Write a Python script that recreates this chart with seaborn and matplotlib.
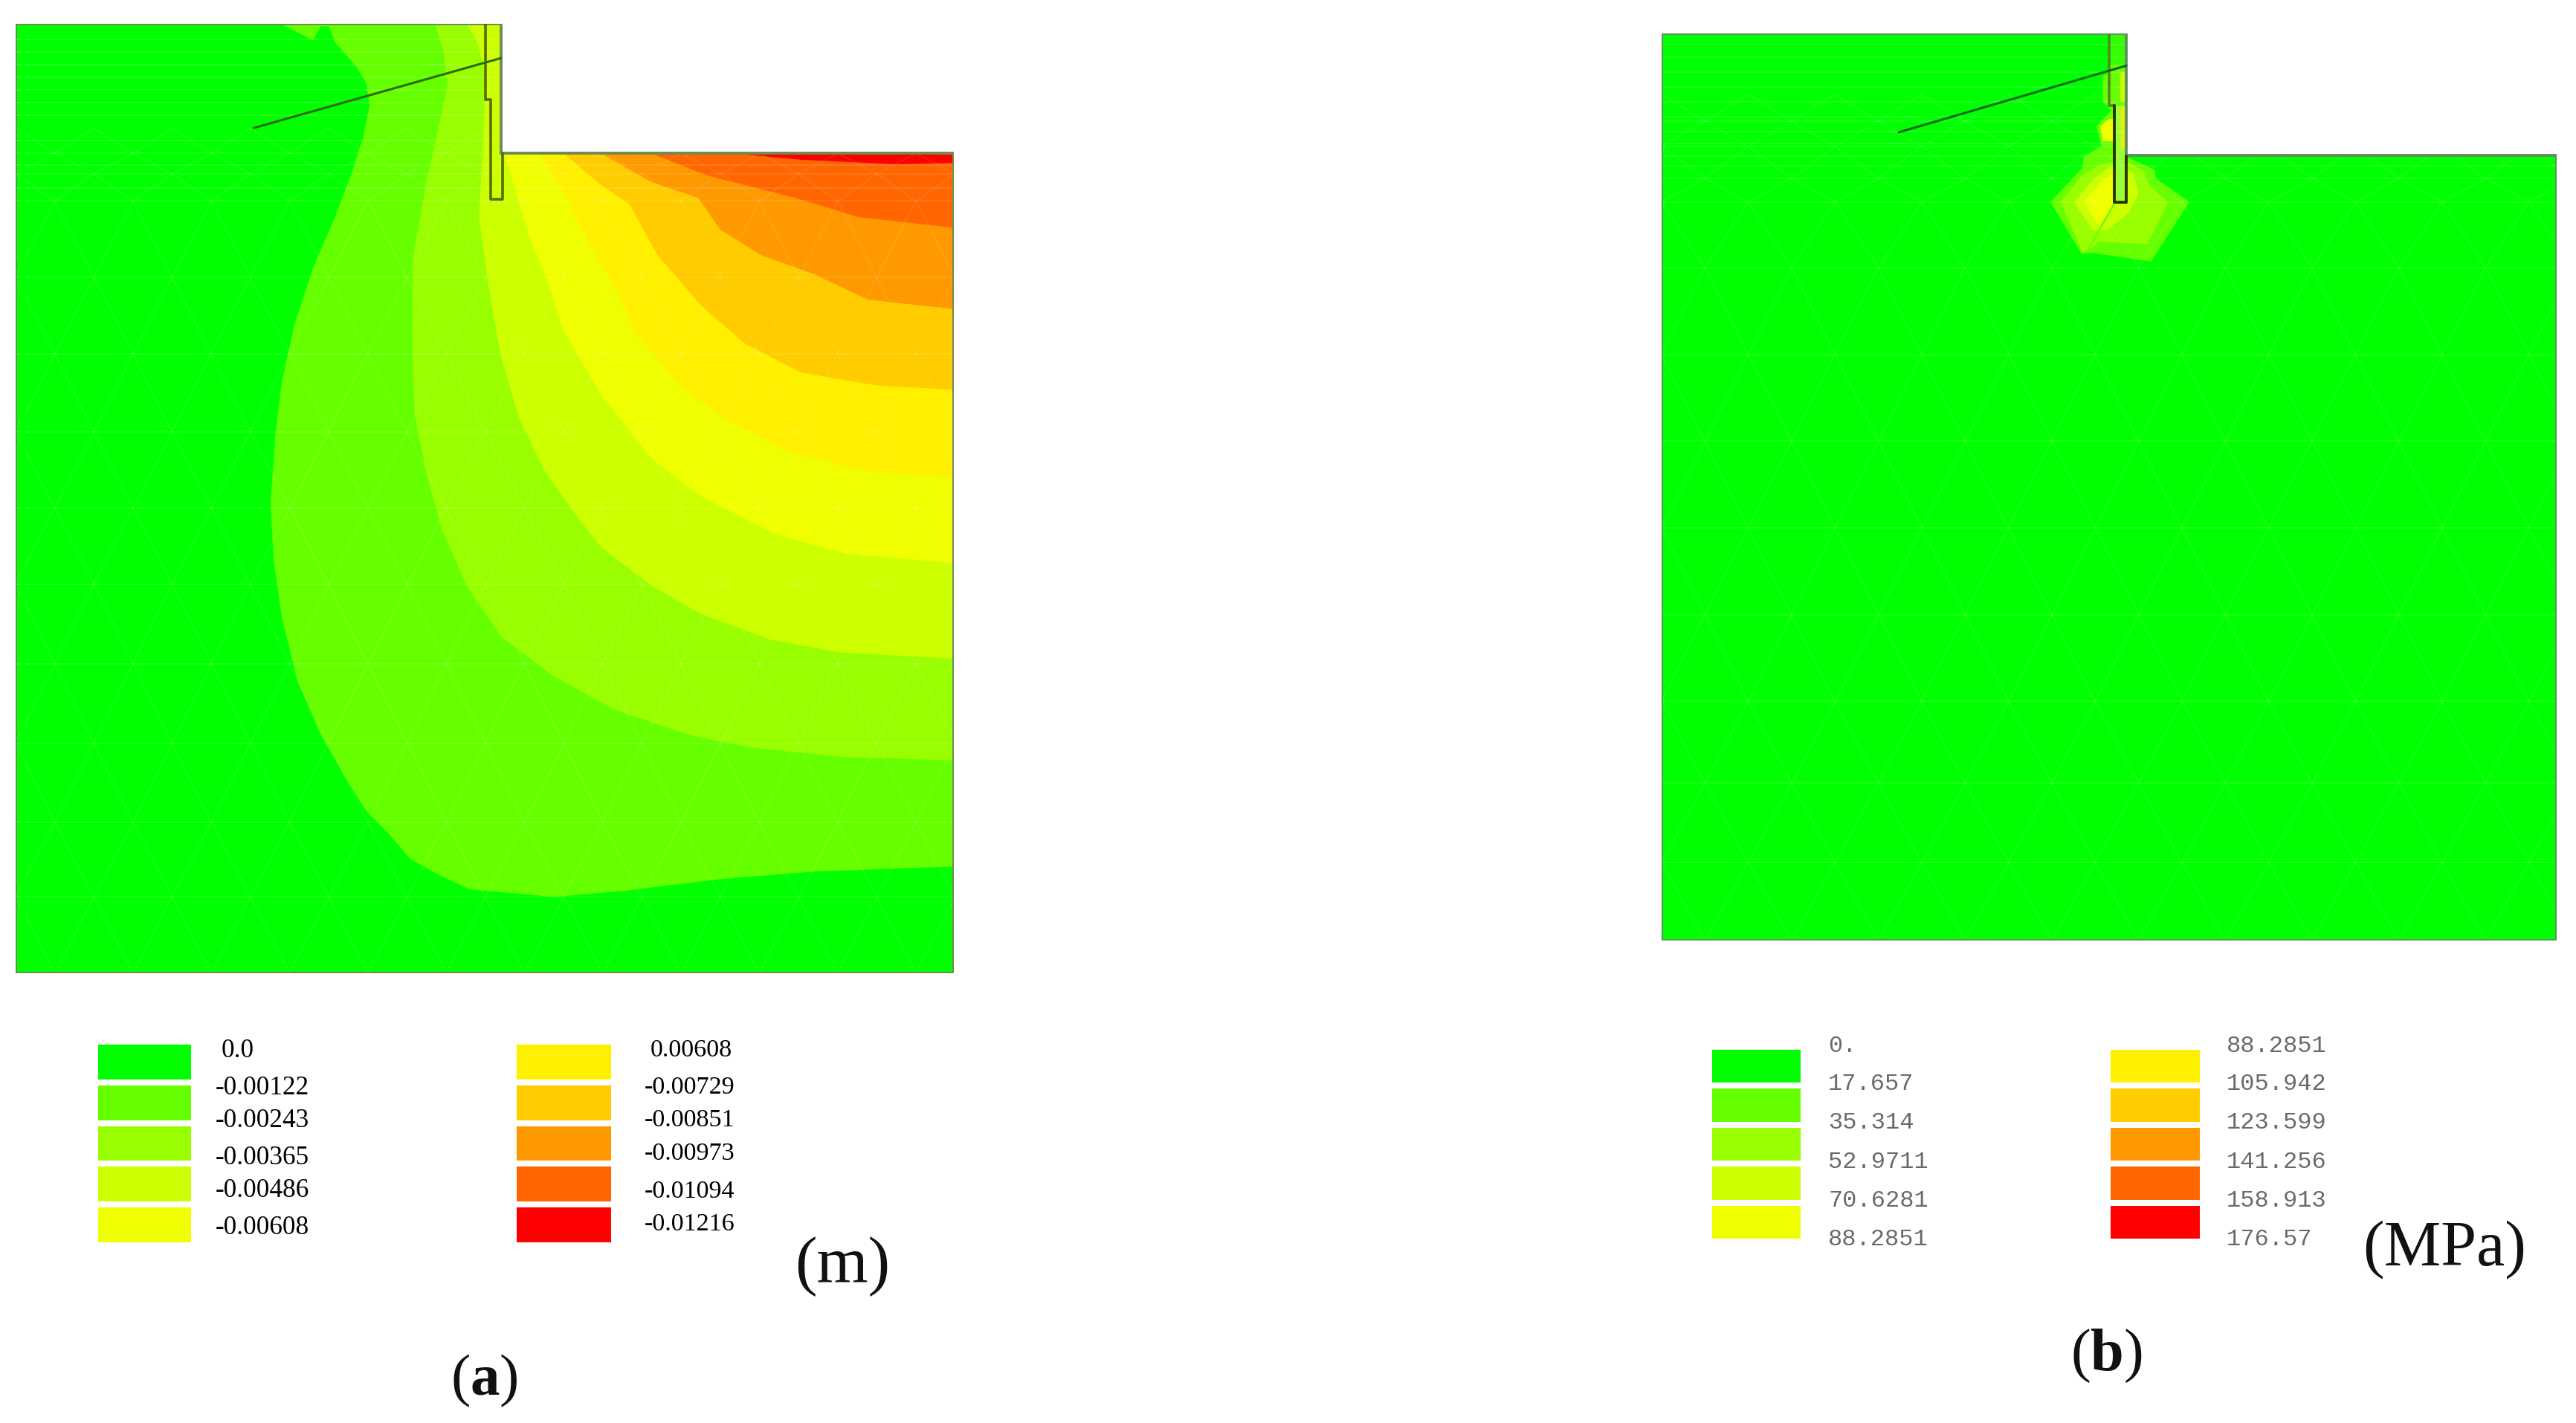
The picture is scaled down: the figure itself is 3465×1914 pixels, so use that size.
import numpy as np
import matplotlib
matplotlib.use("Agg")
import matplotlib.pyplot as plt
from matplotlib.colors import ListedColormap
import pandas as pd
import seaborn as sns

sns.set_theme(style="white")
plt.rcParams['font.family'] = ['Liberation Serif', 'DejaVu Sans']
plt.rcParams['mathtext.fontset'] = 'custom'
plt.rcParams['mathtext.bf'] = 'Liberation Serif:bold'
plt.rcParams['mathtext.rm'] = 'Liberation Serif'

W, H = 3465, 1914

# colours of the ten contour bands
band_colors = ['#00FF00', '#66FF00', '#99FF00', '#CCFF00', '#F0FF00',
               '#FFF000', '#FFCC00', '#FF9900', '#FF6600', '#FF0000']

# legend labels
labels_a_left = ['0.0', '-0.00122', '-0.00243', '-0.00365', '-0.00486', '-0.00608']
labels_a_right = ['0.00608', '-0.00729', '-0.00851', '-0.00973', '-0.01094', '-0.01216']
labels_b_left = ['0.', '17.657', '35.314', '52.9711', '70.6281', '88.2851']
labels_b_right = ['88.2851', '105.942', '123.599', '141.256', '158.913', '176.57']

# panel a: contour lines (x, depth), each one from the surface to the edge
a_c1 = [(448, 36), (500, 62), (512, 40), (525, 40), (535, 65), (570, 105), (585, 130), (590, 165),
        (580, 215), (560, 275), (535, 340), (500, 420), (470, 510), (450, 600), (440, 680), (432, 790),
        (437, 880), (450, 970), (475, 1070), (510, 1150), (550, 1220), (585, 1275), (620, 1310),
        (655, 1350), (700, 1375), (750, 1398), (885, 1410), (1000, 1400), (1150, 1382), (1300, 1370),
        (1523, 1362)]
a_c2 = [(695, 36), (708, 80), (715, 130), (700, 200), (680, 290), (660, 400), (658, 520), (662, 650),
        (680, 740), (705, 830), (745, 920), (800, 1000), (880, 1060), (980, 1115), (1100, 1155),
        (1200, 1175), (1350, 1190), (1523, 1195)]
a_c3 = [(745, 36), (760, 60), (772, 100), (775, 150), (770, 250), (765, 340), (780, 450), (800, 560),
        (830, 660), (870, 740), (920, 810), (960, 860), (1040, 920), (1120, 965), (1230, 1005),
        (1340, 1025), (1523, 1035)]
a_c4 = [(806, 240), (820, 290), (845, 370), (870, 430), (900, 520), (960, 620), (1040, 720), (1120, 780),
        (1240, 840), (1350, 870), (1523, 885)]
a_c5 = [(860, 240), (900, 300), (935, 370), (975, 440), (1020, 530), (1090, 610), (1160, 660), (1260, 710),
        (1380, 740), (1523, 750)]
a_c6 = [(900, 240), (960, 290), (1005, 320), (1050, 400), (1120, 480), (1190, 540), (1280, 585),
        (1400, 605), (1523, 612)]
a_c7 = [(960, 240), (1040, 285), (1115, 310), (1150, 360), (1215, 400), (1300, 430), (1385, 470), (1523, 485)]
a_c8 = [(1040, 240), (1130, 275), (1270, 310), (1370, 340), (1523, 357)]
a_c9 = [(1170, 240), (1280, 250), (1430, 257), (1523, 255)]

a_outline = [(25, 36), (800, 36), (800, 240), (1523, 240), (1523, 1530), (25, 1530), (25, 36)]
a_wall = [(775, 36), (775, 155), (783, 155), (783, 312), (803, 312), (803, 240)]
a_anchor = [(405, 200), (800, 90)]
a_mesh_rows = [200, 240, 272, 315, 435, 555, 678, 798, 918, 1043, 1168, 1292, 1410, 1530]
a_mesh_top = [60, 80, 100, 120, 140, 160, 180, 220, 258, 295]

# panel b: same mesh, much smaller stress lobes around the wall toe
b_c1 = [(175, 755), (300, 620), (310, 570), (380, 530), (360, 450), (420, 385), (385, 350), (385, 250),
        (440, 210), (475, 200), (475, 570), (595, 625), (600, 660), (735, 755), (580, 995), (340, 960),
        (300, 965)]
b_c2 = [(215, 755), (300, 650), (380, 600), (480, 590), (550, 630), (575, 690), (650, 755), (565, 925),
        (370, 915), (340, 940), (305, 960)]
b_c3 = [(270, 755), (350, 660), (420, 610), (510, 640), (530, 720), (490, 800), (400, 870), (345, 870)]
b_c4_low = [(310, 755), (385, 665), (430, 640), (430, 760), (400, 810), (370, 850)]
b_c4_up = [(375, 450), (410, 420), (432, 420), (432, 510), (385, 510)]
b_wall_fill = [(435, 365), (478, 365), (478, 750), (435, 750)]
b_wall_top = [(415, 80), (475, 80), (475, 200), (415, 200)]
b_wall_mid = [(415, 200), (475, 200), (475, 365), (415, 365)]
b_wall_side = [(455, 230), (475, 230), (475, 350), (455, 350)]
b_wall_yellow = [(460, 370), (478, 370), (478, 540), (460, 540)]

b_outline = [(-1395, 75), (480, 75), (480, 568), (2217, 568), (2217, 3735), (-1395, 3735), (-1395, 75)]
b_wall_up = [(410, 75), (410, 365), (432, 365)]
b_wall_low = [(432, 365), (432, 755), (480, 755), (480, 570)]
b_anchor = [(-438, 474), (480, 205)]
b_seam = [(435, 755), (320, 960)]
b_mesh_rows = [320, 430, 530, 660, 755, 1020, 1370, 1720, 2070, 2420, 2770, 3100, 3420, 3735]
b_mesh_top = [120, 170, 230, 290, 350, 410, 470, 520, 570, 610]


def px_axes(fig, x0, y0, x1, y1):
    return fig.add_axes([x0 / W, 1 - y1 / H, (x1 - x0) / W, (y1 - y0) / H])


def xy(points):
    return pd.DataFrame(points, columns=['x', 'y'])


def line(ax, points, color, lw):
    sns.lineplot(data=xy(points), x='x', y='y', sort=False, estimator=None, color=color,
                 linewidth=lw, ax=ax, legend=False, zorder=6)


def fill(ax, points, color, zorder=2):
    pts = np.array(points)
    ax.fill(pts[:, 0], pts[:, 1], color=color, lw=0, zorder=zorder)


def draw_mesh(ax, rows, top_rows, x0, x1, step):
    # faint element edges of the FE mesh
    for y in top_rows:
        ax.plot([x0, x1], [y, y], color='white', alpha=0.13, lw=1.4, zorder=4)
    nodes = np.arange(x0, x1 + step, step)
    for i in range(len(rows) - 1):
        ya, yb = rows[i], rows[i + 1]
        ax.plot([x0, x1], [yb, yb], color='white', alpha=0.1, lw=1.4, zorder=4)
        for n in nodes:
            shift = step / 2 if i % 2 else 0
            ax.plot([n + shift, n + shift + step / 2], [ya, yb], color='white', alpha=0.08, lw=1.4, zorder=4)
            ax.plot([n + shift, n + shift - step / 2], [ya, yb], color='white', alpha=0.08, lw=1.4, zorder=4)


def setup_panel(ax, xlim, ylim):
    ax.set_xlim(*xlim)
    ax.set_ylim(*ylim)
    ax.set_xlabel('')
    ax.set_ylabel('')
    ax.axis('off')


def legend_column(fig, colors, x0, y0, x1, y1):
    ax = px_axes(fig, x0, y0, x1, y1)
    vals = np.arange(len(colors)).reshape(-1, 1)
    sns.heatmap(vals, cmap=ListedColormap(colors), vmin=0, vmax=len(colors) - 1, cbar=False,
                xticklabels=False, yticklabels=False, linewidths=5.5, linecolor='white', ax=ax)
    ax.set_xlabel('')
    ax.set_ylabel('')


fig = plt.figure(figsize=(W / 100, H / 100), dpi=100, facecolor='white')

# panel a
ax_a = px_axes(fig, 21, 32, 1283, 1309)
fill(ax_a, a_outline, band_colors[0], zorder=1)
contours_a = [a_c1, a_c2, a_c3, a_c4, a_c5, a_c6, a_c7, a_c8, a_c9]
for k, c in enumerate(contours_a):
    tail = [(1523, 240)]
    if c[0][1] == 36:
        tail += [(800, 240), (800, 36)]
    fill(ax_a, c + tail, band_colors[k + 1], zorder=2 + k * 0.01)
draw_mesh(ax_a, a_mesh_rows, a_mesh_top, 25, 1523, 125)
ax_a.fill([800, 1530, 1530, 800], [30, 30, 238, 238], color='white', lw=0, zorder=5)
line(ax_a, a_outline, '#6f8a55', 2.8)
line(ax_a, a_wall, '#5a6b00', 2.6)
line(ax_a, a_anchor, '#2f6b10', 2.2)
setup_panel(ax_a, (25, 1523), (1530, 36))

# panel b (coordinates are 3x pixels from the wall region)
ax_b = px_axes(fig, 2235, 45, 3439, 1265)
fill(ax_b, b_outline, band_colors[0], zorder=1)
fill(ax_b, b_c1, band_colors[1], zorder=2)
fill(ax_b, b_c2, band_colors[2], zorder=2.1)
fill(ax_b, b_c3, band_colors[3], zorder=2.2)
fill(ax_b, b_c4_low, band_colors[4], zorder=2.3)
fill(ax_b, b_c4_up, band_colors[4], zorder=2.3)
fill(ax_b, b_wall_top, '#33FF00', zorder=2.4)
fill(ax_b, b_wall_mid, band_colors[1], zorder=2.4)
fill(ax_b, b_wall_side, band_colors[3], zorder=2.5)
fill(ax_b, b_wall_fill, '#99FF33', zorder=2.4)
fill(ax_b, b_wall_yellow, '#E8F000', zorder=2.5)
draw_mesh(ax_b, b_mesh_rows, b_mesh_top, -1395, 2217, 350)
ax_b.fill([480, 2240, 2240, 480], [60, 60, 564, 564], color='white', lw=0, zorder=5)
line(ax_b, b_outline, '#5f8f5f', 2.8)
line(ax_b, b_seam, '#66FF00', 1.6)
line(ax_b, b_wall_up, '#4f8a20', 2.6)
line(ax_b, b_wall_low, '#2b3300', 2.8)
line(ax_b, b_anchor, '#0f6a12', 2.2)
setup_panel(ax_b, (-1395, 2217), (3735, 75))

# legend swatches
legend_column(fig, band_colors[:5], 128, 1401, 261, 1675)
legend_column(fig, band_colors[5:], 691, 1401, 826, 1675)
legend_column(fig, band_colors[:5], 2299, 1408, 2426, 1670)
legend_column(fig, band_colors[5:], 2835, 1408, 2963, 1670)

# text layer in figure pixels
ax_t = fig.add_axes([0, 0, 1, 1], facecolor='none')
ax_t.set_xlim(0, W)
ax_t.set_ylim(H, 0)
ax_t.axis('off')

ys_a_left = [1413, 1463, 1508, 1557, 1602, 1651]
ys_a_right = [1413, 1463, 1507, 1552, 1603, 1647]
ys_b = [1407, 1458, 1510, 1563, 1615, 1667]

for s, y in zip(labels_a_left, ys_a_left):
    ax_t.text(298 if s == '0.0' else 290, y, s, fontsize=25.4, color='black', va='center', ha='left',
              family='Liberation Serif')
for s, y in zip(labels_a_right, ys_a_right):
    ax_t.text(875 if s == '0.00608' else 867, y, s, fontsize=24.6, color='black', va='center', ha='left',
              family='Liberation Serif')
for s, y in zip(labels_b_left, ys_b):
    ax_t.text(2459, y, s, fontsize=23, color='#6a6a6a', va='center', ha='left', family='Liberation Mono')
for s, y in zip(labels_b_right, ys_b):
    ax_t.text(2995, y, s, fontsize=23, color='#6a6a6a', va='center', ha='left', family='Liberation Mono')

ax_t.text(1133, 1704, '(m)', fontsize=64, color='#111111', ha='center', va='center')
ax_t.text(3288, 1681, '(MPa)', fontsize=62, color='#111111', ha='center', va='center')
ax_t.text(651, 1857, r'($\mathbf{a}$)', fontsize=57, color='#111111', ha='center', va='center')
ax_t.text(2833, 1824, r'($\mathbf{b}$)', fontsize=58, color='#111111', ha='center', va='center')

fig.savefig('out.png', dpi=100, facecolor='white')
